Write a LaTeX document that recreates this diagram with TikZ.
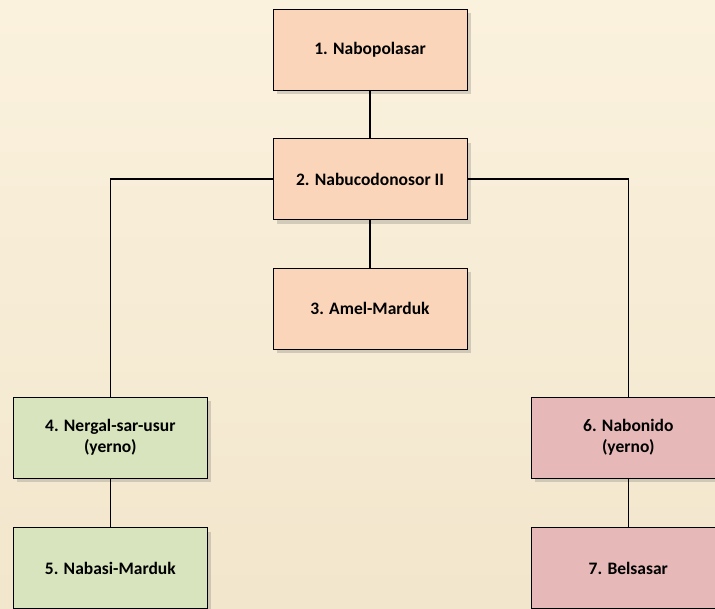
\documentclass[tikz,border=0pt]{standalone}
\usepackage{fontspec}
\setmainfont{Carlito}
\usetikzlibrary{shadows}
\definecolor{parch}{HTML}{F2E6CC}
\definecolor{parchlt}{HTML}{FBF2DE}
\definecolor{peach}{HTML}{FBD5B9}
\definecolor{sage}{HTML}{D7E4BD}
\definecolor{rose}{HTML}{E6B9B8}
\tikzset{
  king/.style={draw=black, line width=1pt, minimum width=194pt, minimum height=81pt,
    align=center, font=\fontsize{17.5}{21}\selectfont\bfseries,
    drop shadow={shadow xshift=4pt, shadow yshift=-4pt, opacity=0.25, fill=black!60}},
  link/.style={line width=1.2pt}
}
\begin{document}
\begin{tikzpicture}[x=1pt,y=-1pt]
		\useasboundingbox (0,0) rectangle (715,608);
		\clip (0,0) rectangle (715,608);
		\shade[top color=parchlt, bottom color=parch] (0,0) rectangle (715,608);
		\node[king, fill=peach] (n1) at (370,49.5) {1. Nabopolasar};
		\node[king, fill=peach] (n2) at (370,179) {2. Nabucodonosor II};
		\node[king, fill=peach] (n3) at (370,308.5) {3. Amel-Marduk};
		\node[king, fill=sage] (n4) at (110.3,437.7) {4. Nergal-sar-usur\\(yerno)};
		\node[king, fill=sage] (n5) at (110.3,568) {5. Nabasi-Marduk};
		\node[king, fill=rose] (n6) at (628.3,437.7) {6. Nabonido\\(yerno)};
		\node[king, fill=rose] (n7) at (628.3,568) {7. Belsasar};
		\draw[link] (n1) -- (n2);
		\draw[link] (n2) -- (n3);
		\draw[link] (n2.west) -| (n4.north);
		\draw[link] (n2.east) -| (n6.north);
		\draw[link] (n4) -- (n5);
		\draw[link] (n6) -- (n7);
\end{tikzpicture}
\end{document}
